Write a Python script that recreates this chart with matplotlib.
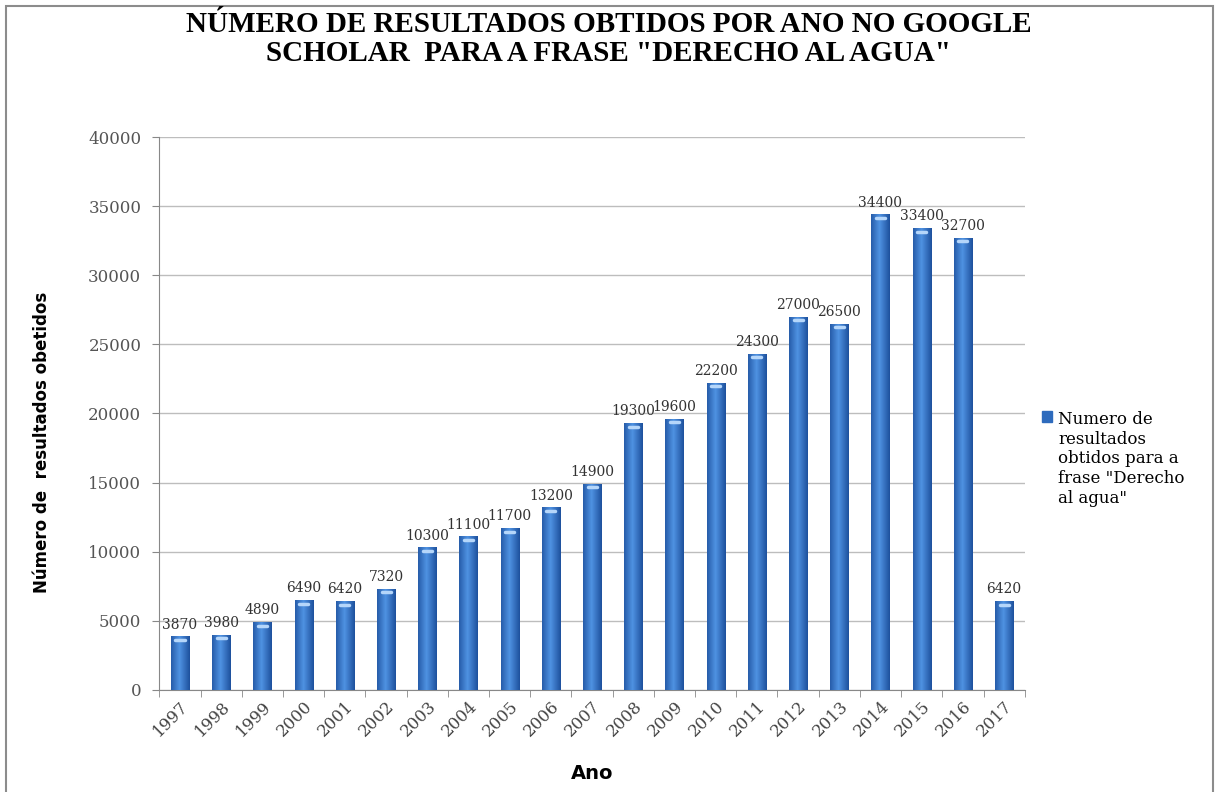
import numpy as np
import matplotlib
matplotlib.use('Agg')
import matplotlib.pyplot as plt
from matplotlib.patches import Rectangle

# ===数据
anos = ['1997', '1998', '1999', '2000', '2001', '2002', '2003', '2004', '2005', '2006', '2007',
        '2008', '2009', '2010', '2011', '2012', '2013', '2014', '2015', '2016', '2017']
resultados = [3870, 3980, 4890, 6490, 6420, 7320, 10300, 11100, 11700, 13200, 14900,
              19300, 19600, 22200, 24300, 27000, 26500, 34400, 33400, 32700, 6420]
yticks = [0, 5000, 10000, 15000, 20000, 25000, 30000, 35000, 40000]

serif = 'DejaVu Serif'
titlefont = 'Liberation Serif'
sans = 'DejaVu Sans'

fig = plt.figure(figsize=(12.17, 7.92), dpi=100)
ax = fig.add_axes([0.131, 0.129, 0.711, 0.698])

x = np.arange(len(anos))
bars = ax.bar(x, resultados, width=0.44, color='#2e6bbd', zorder=2,
              label='Numero de\nresultados\nobtidos para a\nfrase "Derecho\nal agua"')

# ===渐变效果
grad = np.linspace(0, 1, 64)
grad = 1 - np.abs(grad - 0.45) * 1.7
grad = np.clip(grad, 0, 1).reshape(1, -1)
cmap = matplotlib.colors.LinearSegmentedColormap.from_list('b', ['#1a4c98', '#4f92e2'])
for b in bars:
    bx, by, bw, bh = b.get_x(), b.get_y(), b.get_width(), b.get_height()
    im = ax.imshow(grad, cmap=cmap, extent=[bx, bx + bw, by, by + bh],
                   aspect='auto', zorder=3, vmin=0, vmax=1)
    im.set_clip_path(b)
    ax.plot([bx + bw * 0.25, bx + bw * 0.75], [by + bh - 250, by + bh - 250],
            color='#b5d6fa', lw=2.5, zorder=4, solid_capstyle='round')

for xi, v in zip(x, resultados):
    ax.text(xi, v + 350, str(v), ha='center', va='bottom', fontsize=10,
            family=serif, color='#333333')

ax.set_xlim(-0.5, len(anos) - 0.5)
ax.set_ylim(0, 40000)
ax.set_yticks(yticks)
ax.set_yticklabels([str(t) for t in yticks], family=serif, fontsize=12, color='#555555')
ax.set_xticks(x)
ax.set_xticklabels(anos, rotation=45, ha='right', rotation_mode='anchor',
                   family=serif, fontsize=12, color='#444444')
ax.tick_params(axis='x', length=0, pad=6)
ax.tick_params(axis='y', length=5, color='#888888', pad=8)
ax.set_xticks(np.arange(len(anos) + 1) - 0.5, minor=True)
ax.tick_params(axis='x', which='minor', length=5, color='#888888')

ax.yaxis.grid(True, color='#bdbdbd', lw=1)
ax.set_axisbelow(True)
for s in ['top', 'right']:
    ax.spines[s].set_visible(False)
ax.spines['left'].set_color('#888888')
ax.spines['bottom'].set_color('#888888')

ax.set_ylabel('Número de  resultados obetidos', family=sans, fontsize=12,
              fontweight='bold')
ax.yaxis.set_label_coords(-0.125, 0.447)
ax.set_xlabel('Ano', family=sans, fontsize=14, fontweight='bold', labelpad=17)

fig.text(0.5, 0.951, 'NÚMERO DE RESULTADOS OBTIDOS POR ANO NO GOOGLE\nSCHOLAR  PARA A FRASE "DERECHO AL AGUA"',
         ha='center', va='center', family=titlefont, fontsize=21, fontweight='bold',
         linespacing=1.1)

leg = ax.legend(loc='upper left', bbox_to_anchor=(1.006, 0.525), frameon=False,
                prop={'family': serif, 'size': 12}, handlelength=0.6, handleheight=0.6,
                handletextpad=0.4, borderaxespad=0.3, labelspacing=0.2)
leg.legend_handles[0].set_color('#2e6bbd')
# 图例标记对齐第一行
for col in leg._legend_handle_box.get_children():
    for row in col.get_children():
        row.align = 'top'

# ===边框
fig.patches.append(Rectangle((0.005, -0.01), 0.992, 1.003, transform=fig.transFigure,
                             fill=False, edgecolor='#8c8c8c', lw=1.5))

fig.savefig('out.png', dpi=100)
